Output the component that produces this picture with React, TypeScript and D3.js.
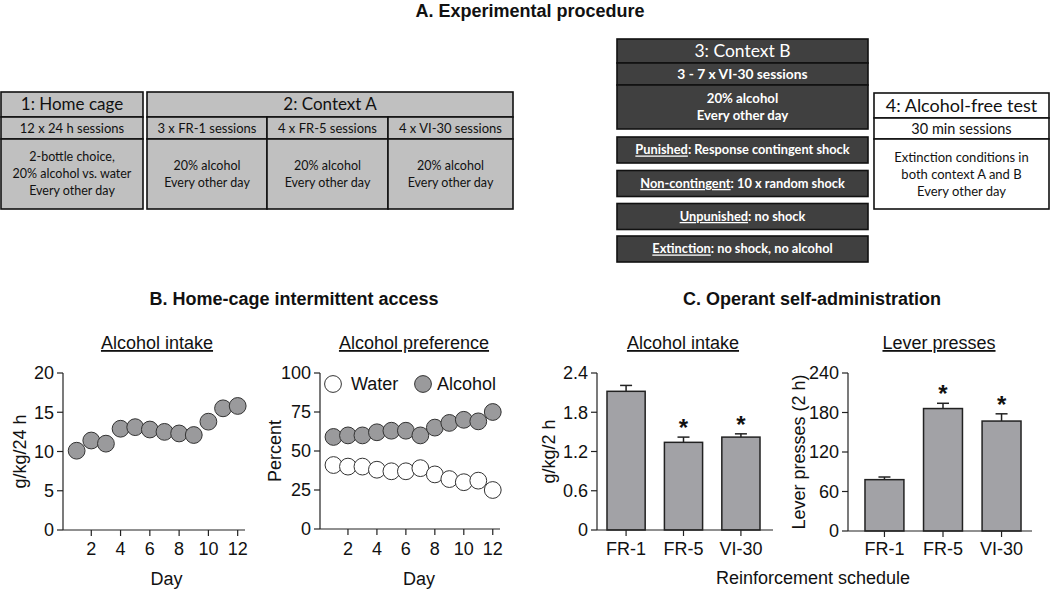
import React from "react";
import * as d3 from "d3";

// ---------- Data ----------
const days = [1, 2, 3, 4, 5, 6, 7, 8, 9, 10, 11, 12];
const dayTicks = [2, 4, 6, 8, 10, 12];
const homeIntake = [10.1, 11.4, 11.0, 12.9, 13.1, 12.8, 12.5, 12.3, 12.1, 13.8, 15.5, 15.8];
const intakeTicks = [0, 5, 10, 15, 20];
const alcoholPref = [59, 60, 60, 62, 63, 63, 60, 65, 68, 70, 69, 75];
const waterPref = [41, 40, 40, 38, 37, 37, 39, 35, 32, 30, 31, 25];
const prefTicks = [0, 25, 50, 75, 100];
const schedules = ["FR-1", "FR-5", "VI-30"];
const opIntake = [2.12, 1.34, 1.42];
const opIntakeErr = [0.09, 0.08, 0.05];
const opIntakeTicks = [0, 0.6, 1.2, 1.8, 2.4];
const presses = [78, 186, 167];
const pressesErr = [4, 8, 11];
const pressTicks = [0, 60, 120, 180, 240];
const significant = [false, true, true];

const SANS = "Liberation Sans, Arial, sans-serif";
const BOX = "Lato, 'Open Sans', sans-serif";
const LIGHT = "#c0c0c0";
const DARK = "#404040";
const MARK = "#9a9a9c";
const BAR = "#a2a2a6";
const FS = 18;

function YAxis({ x, y, ticks, fmt }: any) {
  const [r0, r1] = y.range();
  return (
    <g>
      <line x1={x} x2={x} y1={r0} y2={r1} stroke="#222" strokeWidth={1.2} />
      {ticks.map((t: number) => (
        <g key={t}>
          <line x1={x - 6} x2={x} y1={y(t)} y2={y(t)} stroke="#222" strokeWidth={1.2} />
          <text x={x - 9} y={y(t)} dy="0.36em" textAnchor="end" fontSize={FS} fontFamily={SANS} fill="#111">
            {fmt ? fmt(t) : t}
          </text>
        </g>
      ))}
    </g>
  );
}

function Subtitle({ x, y, text }: any) {
  return (
    <text x={x} y={y} textAnchor="middle" fontSize={FS} fontFamily={SANS} fill="#111" style={{ textDecoration: "underline" }}>
      {text}
    </text>
  );
}

function YLabel({ x, y, text }: any) {
  return (
    <text transform={`translate(${x},${y}) rotate(-90)`} textAnchor="middle" fontSize={FS} fontFamily={SANS} fill="#111" dy="0.35em">
      {text}
    </text>
  );
}

function LineChart({ x0, xEnd, yTop, yBot, yMax, ticks, series, ylabel, ylabelX, subtitle, subX, legend, dayX }: any) {
  const x = d3.scaleLinear().domain([0, 12.5]).range([x0 - 1, xEnd]);
  const y = d3.scaleLinear().domain([0, yMax]).range([yBot, yTop]);
  return (
    <g>
      <Subtitle x={subX} y={349} text={subtitle} />
      <YAxis x={x0} y={y} ticks={ticks} />
      <line x1={x0} x2={xEnd} y1={yBot} y2={yBot} stroke="#222" strokeWidth={1.2} />
      {dayTicks.map((t) => (
        <g key={t}>
          <line x1={x(t)} x2={x(t)} y1={yBot} y2={yBot + 6} stroke="#222" strokeWidth={1.2} />
          <text x={x(t)} y={555} textAnchor="middle" fontSize={FS} fontFamily={SANS} fill="#111">{t}</text>
        </g>
      ))}
      <text x={dayX} y={585} textAnchor="middle" fontSize={FS} fontFamily={SANS} fill="#111">Day</text>
      <YLabel x={ylabelX} y={(yTop + yBot) / 2} text={ylabel} />
      {series.map((s: any, si: number) => (
        <g key={si}>
          {s.values.map((v: number, i: number) => (
            <circle key={i} cx={x(days[i])} cy={y(v)} r={8.4} fill={s.fill} stroke="#333" strokeWidth={1} />
          ))}
        </g>
      ))}
      {legend}
    </g>
  );
}

function BarChart({ x0, xEnd, bandEnd, yTop, yBot, yMax, ticks, values, errs, ylabel, ylabelX, subtitle, subX, fmt, po }: any) {
  const x = d3.scaleBand().domain(schedules).range([x0, bandEnd]).paddingInner(0.335).paddingOuter(po);
  const y = d3.scaleLinear().domain([0, yMax]).range([yBot, yTop]);
  return (
    <g>
      <Subtitle x={subX} y={349} text={subtitle} />
      <YAxis x={x0} y={y} ticks={ticks} fmt={fmt} />
      {values.map((v: number, i: number) => {
        const bx = x(schedules[i])!;
        const bw = x.bandwidth();
        const cx = bx + bw / 2;
        const top = y(v + errs[i]);
        return (
          <g key={i}>
            <line x1={cx} x2={cx} y1={y(v)} y2={top} stroke="#222" strokeWidth={1.5} />
            <line x1={cx - 6} x2={cx + 6} y1={top} y2={top} stroke="#222" strokeWidth={1.5} />
            <rect x={bx} y={y(v)} width={bw} height={yBot - y(v)} fill={BAR} stroke="#222" strokeWidth={1.5} />
            {significant[i] && (
              <text x={cx} y={top - 1} textAnchor="middle" fontSize={24} fontWeight={700} fontFamily={SANS} fill="#111">*</text>
            )}
            <line x1={cx} x2={cx} y1={yBot} y2={yBot + 6} stroke="#222" strokeWidth={1.2} />
            <text x={cx} y={555} textAnchor="middle" fontSize={FS} fontFamily={SANS} fill="#111">{schedules[i]}</text>
          </g>
        );
      })}
      <line x1={x0} x2={xEnd} y1={yBot} y2={yBot} stroke="#222" strokeWidth={1.2} />
      <YLabel x={ylabelX} y={(yTop + yBot) / 2} text={ylabel} />
    </g>
  );
}

function Cell({ x, y, w, h, fill, lines, color, size, bold, lh }: any) {
  const n = lines.length;
  const cy = y + h / 2;
  return (
    <g>
      <rect x={x} y={y} width={w} height={h} fill={fill} stroke="#111" strokeWidth={1.6} />
      {lines.map((l: any, i: number) => (
        <text key={i} x={x + w / 2} y={cy + (i - (n - 1) / 2) * lh} dy="0.35em" textAnchor="middle" fontSize={size}
          fontFamily={BOX} fill={color} fontWeight={bold ? 700 : 400}>
          {l}
        </text>
      ))}
    </g>
  );
}

function SubBox({ y, u, rest }: any) {
  return (
    <g>
      <rect x={617} y={y} width={251} height={26} fill={DARK} stroke="#111" strokeWidth={1.6} />
      <text x={742.5} y={y + 13} dy="0.35em" textAnchor="middle" fontSize={12.8} fontFamily={BOX} fill="#fff" fontWeight={700}>
        <tspan style={{ textDecoration: "underline" }}>{u}</tspan>
        <tspan>{rest}</tspan>
      </text>
    </g>
  );
}

export default function App() {
  return (
    <svg width={1050} height={590} style={{ position: "absolute", left: 0, top: 0, background: "#fff" }}>
      <rect width={1050} height={590} fill="#fff" />
      <text x={530} y={17} textAnchor="middle" fontSize={18} fontWeight={700} fontFamily={SANS} fill="#111">A. Experimental procedure</text>

      {/* Box 1 */}
      <Cell x={1} y={92} w={142} h={25} fill={LIGHT} lines={["1: Home cage"]} color="#111" size={17} lh={17} />
      <Cell x={1} y={117} w={142} h={22} fill={LIGHT} lines={["12 x 24 h sessions"]} color="#111" size={13} lh={17} />
      <Cell x={1} y={139} w={142} h={70} fill={LIGHT} lines={["2-bottle choice,", "20% alcohol vs. water", "Every other day"]} color="#111" size={12.5} lh={17} />

      {/* Box 2 */}
      <Cell x={147} y={92} w={366} h={25} fill={LIGHT} lines={["2: Context A"]} color="#111" size={17} lh={17} />
      <Cell x={147} y={117} w={120} h={22} fill={LIGHT} lines={["3 x FR-1 sessions"]} color="#111" size={13} lh={17} />
      <Cell x={267} y={117} w={121} h={22} fill={LIGHT} lines={["4 x FR-5 sessions"]} color="#111" size={13} lh={17} />
      <Cell x={388} y={117} w={125} h={22} fill={LIGHT} lines={["4 x VI-30 sessions"]} color="#111" size={13} lh={17} />
      <Cell x={147} y={139} w={120} h={70} fill={LIGHT} lines={["20% alcohol", "Every other day"]} color="#111" size={12.5} lh={17} />
      <Cell x={267} y={139} w={121} h={70} fill={LIGHT} lines={["20% alcohol", "Every other day"]} color="#111" size={12.5} lh={17} />
      <Cell x={388} y={139} w={125} h={70} fill={LIGHT} lines={["20% alcohol", "Every other day"]} color="#111" size={12.5} lh={17} />

      {/* Box 3 */}
      <Cell x={617} y={39} w={251} h={24} fill={DARK} lines={["3: Context B"]} color="#fff" size={17.5} lh={17} />
      <Cell x={617} y={63} w={251} h={22} fill={DARK} lines={["3 - 7 x VI-30 sessions"]} color="#fff" size={13.8} bold lh={17} />
      <Cell x={617} y={85} w={251} h={44} fill={DARK} lines={["20% alcohol", "Every other day"]} color="#fff" size={13.2} bold lh={17.5} />
      <SubBox y={137} u="Punished" rest=": Response contingent shock" />
      <SubBox y={170.5} u="Non-contingent" rest=": 10 x random shock" />
      <SubBox y={203.5} u="Unpunished" rest=": no shock" />
      <SubBox y={236} u="Extinction" rest=": no shock, no alcohol" />

      {/* Box 4 */}
      <Cell x={874} y={93} w={175} h={25} fill="#fff" lines={["4: Alcohol-free test"]} color="#111" size={18} lh={17} />
      <Cell x={874} y={118} w={175} h={21} fill="#fff" lines={["30 min sessions"]} color="#111" size={14.5} lh={17} />
      <Cell x={874} y={139} w={175} h={70} fill="#fff" lines={["Extinction conditions in", "both context A and B", "Every other day"]} color="#111" size={13} lh={17} />

      {/* Section titles */}
      <text x={294} y={305} textAnchor="middle" fontSize={18} fontWeight={700} fontFamily={SANS} fill="#111">B. Home-cage intermittent access</text>
      <text x={812} y={305} textAnchor="middle" fontSize={18} fontWeight={700} fontFamily={SANS} fill="#111">C. Operant self-administration</text>

      <LineChart x0={63} xEnd={245} yTop={373} yBot={530} yMax={20} ticks={intakeTicks}
        series={[{ values: homeIntake, fill: MARK }]} ylabel="g/kg/24 h" ylabelX={20} subtitle="Alcohol intake" subX={157} dayX={166.5} />

      <LineChart x0={320} xEnd={500} yTop={373} yBot={529} yMax={100} ticks={prefTicks}
        series={[{ values: waterPref, fill: "#fff" }, { values: alcoholPref, fill: MARK }]} ylabel="Percent" ylabelX={275}
        subtitle="Alcohol preference" subX={414} dayX={419}
        legend={
          <g>
            <circle cx={333} cy={384} r={8.4} fill="#fff" stroke="#333" />
            <text x={351} y={384} dy="0.35em" fontSize={FS} fontFamily={SANS} fill="#111">Water</text>
            <circle cx={423} cy={384} r={8.4} fill={MARK} stroke="#333" />
            <text x={437} y={384} dy="0.35em" fontSize={FS} fontFamily={SANS} fill="#111">Alcohol</text>
          </g>
        } />

      <BarChart x0={597} xEnd={773} bandEnd={770} yTop={373} yBot={530} yMax={2.4} ticks={opIntakeTicks}
        values={opIntake} errs={opIntakeErr} ylabel="g/kg/2 h" ylabelX={549} subtitle="Alcohol intake" subX={683}
        fmt={(t: number) => (t === 0 ? "0" : d3.format(".1f")(t))} po={0.174} />

      <BarChart x0={848} xEnd={1032} bandEnd={1038} yTop={373} yBot={531} yMax={240} ticks={pressTicks}
        values={presses} errs={pressesErr} ylabel="Lever presses (2 h)" ylabelX={799} subtitle="Lever presses" subX={939} po={0.29} />

      <text x={813} y={584} textAnchor="middle" fontSize={FS} fontFamily={SANS} fill="#111">Reinforcement schedule</text>
    </svg>
  );
}
